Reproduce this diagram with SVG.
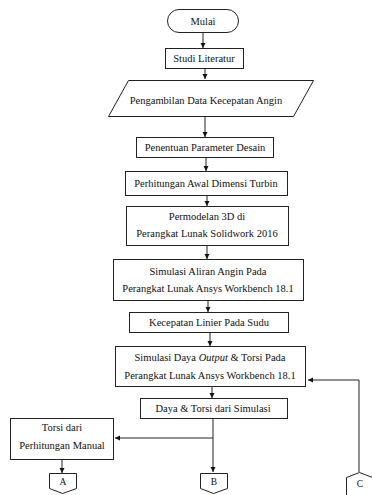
<svg xmlns="http://www.w3.org/2000/svg" width="372" height="495" viewBox="0 0 372 495">
<style>
.s{fill:#fff;stroke:#222;stroke-width:1}
.t{font-family:'Liberation Serif','Times New Roman',Tinos,'DejaVu Serif',serif;font-size:10.5px;fill:#111;text-anchor:middle}
.c{fill:none;stroke:#222;stroke-width:1}
</style>
<defs>
<marker id="ah" markerWidth="6" markerHeight="6" refX="5" refY="3" orient="auto" markerUnits="userSpaceOnUse">
<path d="M0,0.5 L5,3 L0,5.5 Z" fill="#111"/>
</marker>
</defs>
<rect width="372" height="495" fill="#fff"/>
<g id="connectors">
<line class="c" x1="203" y1="33" x2="203" y2="48" marker-end="url(#ah)"/>
<line class="c" x1="205" y1="68" x2="205" y2="79" marker-end="url(#ah)"/>
<line class="c" x1="205" y1="116" x2="205" y2="137" marker-end="url(#ah)"/>
<line class="c" x1="206" y1="157" x2="206" y2="171" marker-end="url(#ah)"/>
<line class="c" x1="207" y1="195" x2="207" y2="206" marker-end="url(#ah)"/>
<line class="c" x1="207" y1="245" x2="207" y2="259" marker-end="url(#ah)"/>
<line class="c" x1="208" y1="300" x2="208" y2="312" marker-end="url(#ah)"/>
<line class="c" x1="210" y1="332" x2="210" y2="346" marker-end="url(#ah)"/>
<line class="c" x1="212" y1="386" x2="212" y2="398" marker-end="url(#ah)"/>
<polyline class="c" points="213,419 213,438 115,438" marker-end="url(#ah)"/>
<line class="c" x1="213" y1="438" x2="213" y2="472" marker-end="url(#ah)"/>
<line class="c" x1="62" y1="459" x2="62" y2="473" marker-end="url(#ah)"/>
<polyline class="c" points="359,472 359,380 308,380" marker-end="url(#ah)"/>
</g>
<g id="mulai">
<rect class="s" x="167.5" y="9.5" width="71" height="23" rx="11.5"/>
<text class="t" x="203" y="25" font-family="Liberation Serif, serif">Mulai</text>
</g>
<g id="studi">
<rect class="s" x="165.5" y="48.5" width="78" height="20"/>
<text class="t" x="204" y="62">Studi Literatur</text>
</g>
<g id="pengambilan">
<polygon class="s" points="128.5,80.5 313.5,80.5 293.5,116.5 108.5,116.5"/>
<text class="t" x="206" y="104">Pengambilan Data Kecepatan Angin</text>
</g>
<g id="penentuan">
<rect class="s" x="136.5" y="137.5" width="137" height="20"/>
<text class="t" x="205" y="151">Penentuan Parameter Desain</text>
</g>
<g id="perhitungan">
<rect class="s" x="125.5" y="171.5" width="162" height="24"/>
<text class="t" x="206" y="187">Perhitungan Awal Dimensi Turbin</text>
</g>
<g id="permodelan">
<rect class="s" x="126.5" y="206.5" width="162" height="39"/>
<text class="t" x="207" y="220">Permodelan 3D di</text>
<text class="t" x="207" y="237">Perangkat Lunak Solidwork 2016</text>
</g>
<g id="simulasi-aliran">
<rect class="s" x="113.5" y="259.5" width="190" height="41"/>
<text class="t" x="208" y="275">Simulasi Aliran Angin Pada</text>
<text class="t" x="208" y="292">Perangkat Lunak Ansys Workbench 18.1</text>
</g>
<g id="kecepatan">
<rect class="s" x="129.5" y="312.5" width="159" height="20"/>
<text class="t" x="209" y="326">Kecepatan Linier Pada Sudu</text>
</g>
<g id="simulasi-daya">
<rect class="s" x="115.5" y="346.5" width="190" height="40"/>
<text class="t" x="210" y="361">Simulasi Daya <tspan font-style="italic">Output</tspan> &amp; Torsi Pada</text>
<text class="t" x="210" y="379">Perangkat Lunak Ansys Workbench 18.1</text>
</g>
<g id="daya-torsi">
<rect class="s" x="140.5" y="398.5" width="147" height="20"/>
<text class="t" x="213" y="412">Daya &amp; Torsi dari Simulasi</text>
</g>
<g id="torsi-manual">
<rect class="s" x="10.5" y="418.5" width="103" height="41"/>
<text class="t" x="62" y="431">Torsi dari</text>
<text class="t" x="62" y="449">Perhitungan Manual</text>
</g>
<g id="A">
<polygon class="s" points="49.5,473.5 76.5,473.5 76.5,488.5 62.5,493.5 49.5,488.5"/>
<text class="t" x="63" y="485" style="font-size:9.5px">A</text>
</g>
<g id="B">
<polygon class="s" points="200.5,473.5 227.5,473.5 227.5,488.5 213.5,493.5 200.5,488.5"/>
<text class="t" x="214" y="485" style="font-size:9.5px">B</text>
</g>
<g id="C">
<polyline class="s" points="346.5,496 346.5,477.5 359.5,472.5 372.5,477.5 372.5,496"/>
<text class="t" x="360" y="487" style="font-size:9.5px">C</text>
</g>
</svg>
